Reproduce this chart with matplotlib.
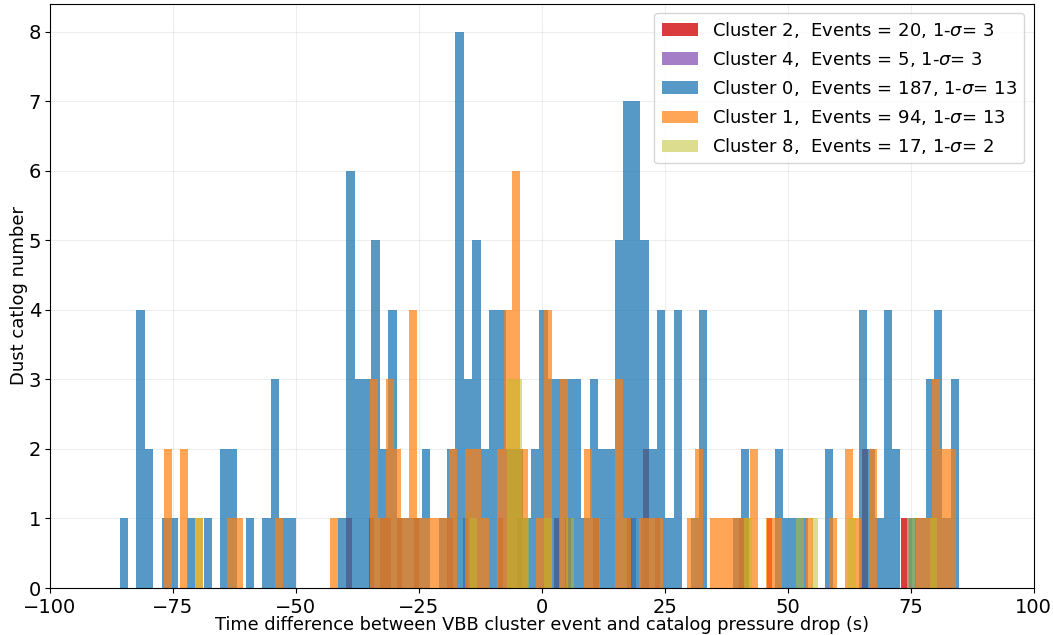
import numpy as np
import matplotlib
matplotlib.use('Agg')
import matplotlib.pyplot as plt

# per-cluster histogram: 100 bins between (lo, hi) in seconds, counts
clusters = ['2', '4', '0', '1', '8']
sigmas = [3, 3, 13, 13, 2]
colors = ['tab:red', 'tab:purple', 'tab:blue', 'tab:orange', 'tab:olive']
alphas = [0.9, 0.85, 0.75, 0.7, 0.5]

red_range = (-39.76, 74.25)
red_counts = [1, 0, 0, 0, 1, 0, 1, 1, 0, 1,
              0, 0, 1, 0, 0, 0, 0, 0, 1, 0,
              0, 0, 0, 0, 0, 0, 0, 1, 0, 0,
              0, 0, 0, 0, 0, 0, 0, 1, 0, 1,
              0, 0, 0, 0, 1, 0, 0, 0, 0, 0,
              1, 0, 0, 2, 0, 1, 0, 0, 0, 0,
              0, 0, 0, 0, 0, 0, 0, 0, 0, 0,
              1, 0, 0, 0, 0, 1, 0, 0, 0, 0,
              0, 0, 0, 0, 0, 0, 0, 0, 0, 0,
              0, 0, 2, 0, 0, 0, 0, 0, 0, 1]

purple_range = (-25.0, 75.2)
purple_counts = [0, 0, 0, 0, 0, 0, 0, 0, 0, 1,
                 0, 0, 0, 0, 0, 0, 0, 0, 0, 0,
                 1, 0, 0, 0, 0, 0, 0, 0, 0, 0,
                 0, 0, 0, 0, 0, 0, 0, 0, 0, 0,
                 0, 0, 0, 1, 0, 1, 0, 0, 0, 0,
                 0, 0, 0, 0, 0, 0, 0, 0, 0, 0,
                 0, 0, 0, 0, 0, 0, 0, 0, 0, 0,
                 0, 0, 0, 0, 0, 0, 0, 0, 0, 0,
                 0, 0, 0, 0, 0, 0, 0, 0, 0, 0,
                 0, 0, 0, 0, 0, 0, 0, 0, 0, 1]

blue_range = (-85.85, 84.90)
blue_counts = [1, 0, 4, 2, 0, 1, 1, 0, 1, 0,
               1, 0, 2, 2, 0, 1, 0, 1, 3, 1,
               1, 0, 0, 0, 0, 0, 1, 6, 3, 3,
               5, 2, 4, 1, 1, 1, 2, 0, 1, 2,
               8, 3, 5, 2, 4, 4, 2, 2, 1, 2,
               4, 3, 3, 3, 3, 1, 3, 2, 2, 5,
               7, 7, 5, 2, 4, 1, 4, 0, 1, 4,
               0, 0, 0, 1, 2, 0, 0, 0, 2, 1,
               1, 1, 0, 0, 2, 0, 0, 0, 4, 2,
               1, 4, 2, 0, 1, 1, 3, 4, 1, 3]

orange_range = (-76.86, 84.25)
orange_counts = [2, 0, 2, 0, 1, 0, 0, 0, 1, 1,
                 0, 0, 0, 0, 1, 0, 0, 0, 0, 0,
                 0, 1, 0, 0, 0, 0, 3, 1, 3, 2,
                 1, 4, 1, 1, 1, 1, 2, 0, 2, 2,
                 1, 0, 2, 4, 6, 2, 0, 1, 4, 0,
                 3, 0, 0, 2, 1, 0, 0, 3, 1, 0,
                 1, 1, 1, 0, 0, 0, 1, 2, 0, 1,
                 1, 1, 1, 1, 2, 0, 1, 1, 0, 0,
                 0, 1, 0, 0, 1, 0, 2, 1, 0, 2,
                 0, 0, 0, 0, 0, 1, 1, 3, 2, 2]

olive_range = (-70.4, 80.4)
olive_counts = [1, 0, 0, 0, 0, 0, 0, 0, 0, 0,
                0, 0, 0, 0, 0, 0, 0, 0, 0, 0,
                0, 0, 0, 0, 0, 0, 0, 0, 0, 0,
                0, 0, 0, 0, 0, 0, 0, 1, 0, 0,
                0, 0, 3, 3, 1, 0, 0, 1, 0, 0,
                1, 0, 0, 0, 0, 0, 0, 0, 0, 0,
                0, 0, 0, 0, 0, 0, 0, 0, 0, 0,
                0, 0, 0, 0, 1, 0, 0, 0, 0, 0,
                0, 1, 0, 1, 0, 0, 0, 0, 1, 0,
                0, 0, 0, 0, 0, 0, 1, 0, 0, 1]

ranges = [red_range, purple_range, blue_range, orange_range, olive_range]
counts = [red_counts, purple_counts, blue_counts, orange_counts, olive_counts]

fig = plt.figure(figsize=(10.53, 6.35), dpi=100)
ax = fig.add_axes([0.0475, 0.074, 0.934, 0.92])

for name, sig, col, a, rng, cnt in zip(clusters, sigmas, colors, alphas, ranges, counts):
    edges = np.linspace(rng[0], rng[1], len(cnt) + 1)
    centers = 0.5 * (edges[:-1] + edges[1:])
    label = 'Cluster %s,  Events = %d, 1-$\\sigma$= %d' % (name, sum(cnt), sig)
    ax.hist(centers, bins=edges, weights=cnt, color=col, alpha=a, label=label)

ax.set_xlim(-100, 100)
ax.grid(alpha=0.2)
ax.set_axisbelow(True)
ax.tick_params(axis='x', labelsize=14, pad=4)
ax.tick_params(axis='y', labelsize=14, pad=3)
ax.set_xlabel('Time difference between VBB cluster event and catalog pressure drop (s)', fontsize=12.8, labelpad=-1)
ax.set_ylabel('Dust catlog number', fontsize=13, labelpad=0)
ax.legend(loc='upper right', fontsize=13)

fig.savefig('out.png', dpi=100)
